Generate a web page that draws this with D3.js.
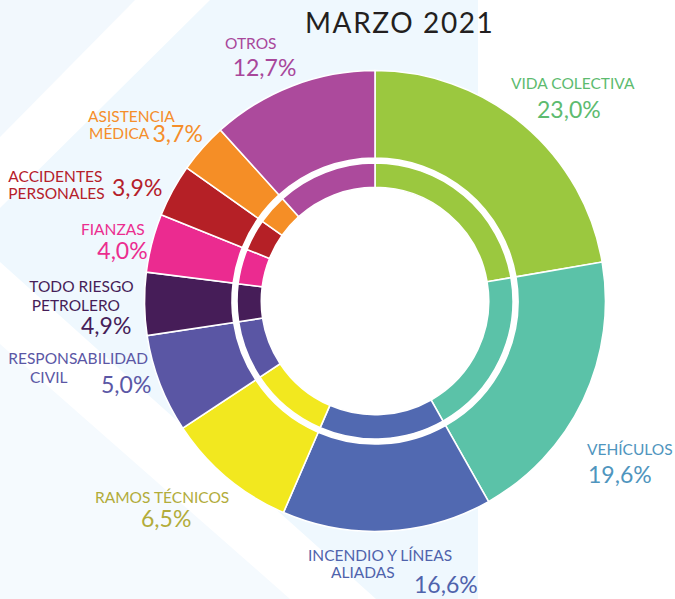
<!DOCTYPE html>
<html>
<head>
<meta charset="utf-8">
<script src="https://cdn.jsdelivr.net/npm/d3@7"></script>
<style>
  html, body { margin: 0; padding: 0; background: #ffffff; }
  svg { display: block; }
  text { font-family: Lato, "Noto Sans", sans-serif; }
</style>
</head>
<body>
<svg id="chart" width="675" height="599"></svg>
<script>
// ---- data ----
const title = "MARZO 2021";
const categories = ["VIDA COLECTIVA", "VEHÍCULOS", "INCENDIO Y LÍNEAS ALIADAS", "RAMOS TÉCNICOS",
  "RESPONSABILIDAD CIVIL", "TODO RIESGO PETROLERO", "FIANZAS", "ACCIDENTES PERSONALES",
  "ASISTENCIA MÉDICA", "OTROS"];
// printed share labels
const pctLabels = ["23,0%", "19,6%", "16,6%", "6,5%", "5,0%", "4,9%", "4,0%", "3,9%", "3,7%", "12,7%"];
// angular share of each slice as drawn in the picture (%)
const values = [22.3, 19.5, 14.7, 9.2, 6.9, 4.4, 4.1, 3.7, 3.5, 11.7];

// ---- styles ----
const sliceColors = ["#9bc83f", "#5bc2a8", "#5169b1", "#f2e81f", "#5a56a4", "#461d58",
  "#eb2b90", "#b52026", "#f58e26", "#ac4a9c"];
const textColors = ["#5dbb6f", "#4f95be", "#4f63ac", "#b2ac3a", "#5b57a5", "#461d58",
  "#eb2d8f", "#b5202a", "#f58e2a", "#a8479b"];

// label layout: lines of the name (left x, baseline y) and percentage (left x, baseline y)
const labelLayout = [
  { name: [[511, 89.3, "VIDA COLECTIVA"]], pct: [537, 118.3] },
  { name: [[587, 455, "VEHÍCULOS"]], pct: [588, 483.3] },
  { name: [[308, 561, "INCENDIO Y LÍNEAS"], [331, 577.7, "ALIADAS"]], pct: [414, 593.3] },
  { name: [[95, 502.6, "RAMOS TÉCNICOS"]], pct: [141, 527.2] },
  { name: [[8.3, 364, "RESPONSABILIDAD"], [30, 383.3, "CIVIL"]], pct: [101, 393.3] },
  { name: [[29.3, 292.3, "TODO RIESGO"], [31.7, 311.2, "PETROLERO"]], pct: [81, 333.8] },
  { name: [[81, 234.8, "FIANZAS"]], pct: [97.3, 258.8] },
  { name: [[8.3, 181.7, "ACCIDENTES"], [8.3, 199.3, "PERSONALES"]], pct: [112, 196] },
  { name: [[88, 121.7, "ASISTENCIA"], [89, 139, "MÉDICA"]], pct: [152.5, 141.7] },
  { name: [[225, 49.3, "OTROS"]], pct: [232.7, 76] }
];

const W = 675, H = 599;
const cx = 375, cy = 301;
const svg = d3.select("#chart");

// ---- background shapes ----
const bg = svg.append("g");
bg.append("path").attr("d", "M0,0 L135,0 L0,137 Z").attr("fill", "#f2f8fd");
bg.append("path").attr("d", "M210,0 L478,0 L478,599 L376,599 L0,262 L0,208 Z").attr("fill", "#eff8fe");
bg.append("path").attr("d", "M0,344 L290,599 L0,599 Z").attr("fill", "#f5fafe");

// ---- donut ----
const pie = d3.pie().sort(null).value(d => d).startAngle(0).endAngle(2 * Math.PI);
const arcs = pie(values);
const outerArc = d3.arc().innerRadius(143).outerRadius(230.5);
const innerArc = d3.arc().innerRadius(113.7).outerRadius(138);

const g = svg.append("g").attr("transform", `translate(${cx},${cy})`);
g.append("circle").attr("r", 143).attr("fill", "#ffffff");
g.selectAll("path.outer").data(arcs).join("path")
  .attr("class", "outer")
  .attr("d", outerArc)
  .attr("fill", (d, i) => sliceColors[i])
  .attr("stroke", "#ffffff").attr("stroke-width", 1.6);
g.selectAll("path.inner").data(arcs).join("path")
  .attr("class", "inner")
  .attr("d", innerArc)
  .attr("fill", (d, i) => sliceColors[i])
  .attr("stroke", "#ffffff").attr("stroke-width", 1.6);

// ---- title ----
svg.append("text").attr("x", 305).attr("y", 33.3)
  .attr("font-size", 28).attr("letter-spacing", 1.6).attr("fill", "#231f20").text(title);

// ---- labels ----
const lg = svg.append("g");
labelLayout.forEach((L, i) => {
  L.name.forEach(([x, y, t]) => {
    lg.append("text").attr("x", x).attr("y", y)
      .attr("font-size", 15.5).attr("fill", textColors[i]).text(t);
  });
  lg.append("text").attr("x", L.pct[0]).attr("y", L.pct[1])
    .attr("font-size", 23).attr("fill", textColors[i]).text(pctLabels[i]);
});
</script>
</body>
</html>
